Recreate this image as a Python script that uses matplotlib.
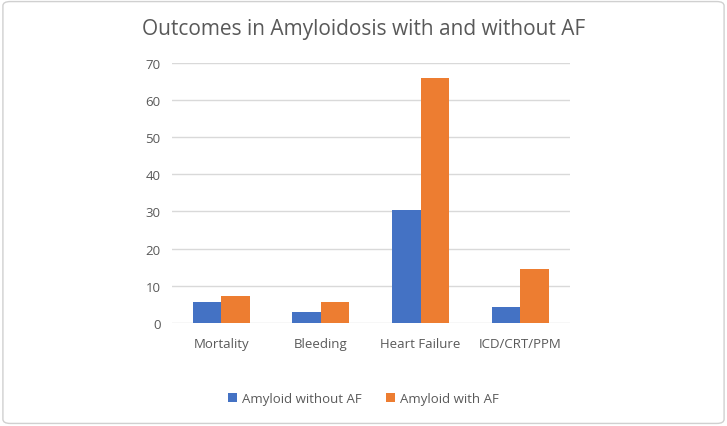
import numpy as np
import matplotlib.pyplot as plt
from matplotlib.patches import FancyBboxPatch

plt.rcParams['font.family'] = ['Open Sans', 'DejaVu Sans']

categories = ['Mortality', 'Bleeding', 'Heart Failure', 'ICD/CRT/PPM']
without_af = [5.6, 2.9, 30.4, 4.4]
with_af = [7.3, 5.6, 65.9, 14.5]
yticks = [0, 10, 20, 30, 40, 50, 60, 70]

blue = '#4472C4'
orange = '#ED7D31'
text_col = '#595959'

fig = plt.figure(figsize=(7.27, 4.27), dpi=100)
ax = fig.add_axes([0.236, 0.241, 0.548, 0.610])

x = np.arange(len(categories))
w = 0.286
ax.bar(x - w / 2, without_af, w, color=blue, label='Amyloid without AF', zorder=3)
ax.bar(x + w / 2, with_af, w, color=orange, label='Amyloid with AF', zorder=3)

ax.set_xlim(-0.5, 3.5)
ax.set_ylim(0, 70)
ax.set_yticks(yticks)
ax.set_xticks(x)
ax.set_xticklabels(categories)
ax.yaxis.grid(True, color='#D9D9D9', linewidth=1, zorder=0)
for s in ax.spines.values():
    s.set_visible(False)
ax.tick_params(length=0, labelsize=9.5, colors=text_col, pad=8)
ax.tick_params(axis='x', pad=10)

fig.suptitle('Outcomes in Amyloidosis with and without AF', x=0.5, y=0.955,
             fontsize=15, color=text_col)

fig.legend(loc='center', bbox_to_anchor=(0.5, 0.065), ncol=2, frameon=False,
           fontsize=9.5, labelcolor=text_col, handlelength=0.7, handleheight=0.7,
           handletextpad=0.4, columnspacing=1.8)

border = FancyBboxPatch((0.004, 0.006), 0.992, 0.988, boxstyle='round,pad=0,rounding_size=0.01',
                        transform=fig.transFigure, fill=False, edgecolor='#D0D0D0', linewidth=1)
fig.patches.append(border)

fig.savefig('out.png', dpi=100)
